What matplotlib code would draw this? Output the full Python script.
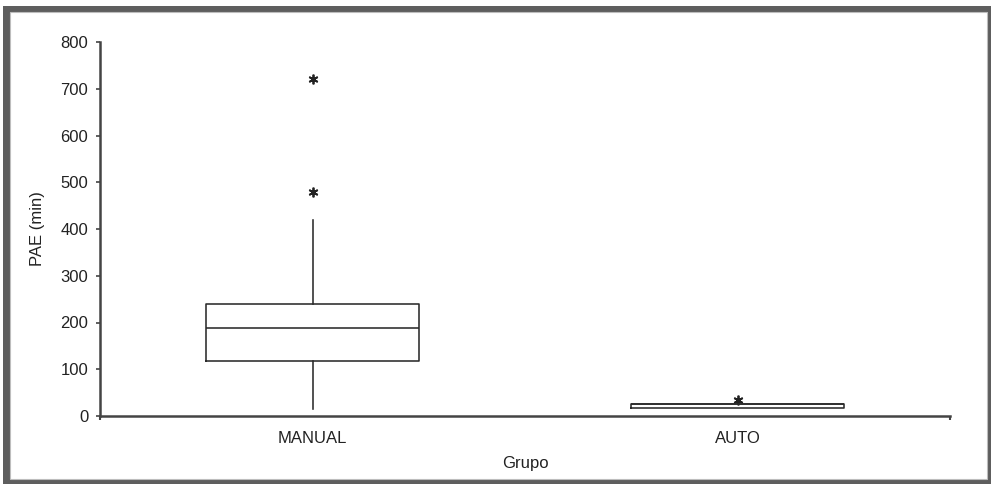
import matplotlib.pyplot as plt
from matplotlib.patches import Rectangle

plt.rcParams['font.family'] = ['Liberation Sans', 'DejaVu Sans']

groups = ["MANUAL", "AUTO"]
whisker_low = [15, 17]
q1 = [118, 18]
median = [188, 26]
q3 = [240, 26]
whisker_high = [419, 27]
outliers = [[480, 720], [34]]

stats = []
for i, g in enumerate(groups):
    stats.append({
        'label': g,
        'whislo': whisker_low[i],
        'q1': q1[i],
        'med': median[i],
        'q3': q3[i],
        'whishi': whisker_high[i],
        'fliers': outliers[i],
    })

fig = plt.figure(figsize=(9.91, 4.84), dpi=100)
W, H = 991, 484

# gray picture frame
fig.patches.append(Rectangle((3 / W, 0), 988 / W, 478 / H, transform=fig.transFigure,
                             facecolor='#5e5e5e', edgecolor='none', zorder=0))
fig.patches.append(Rectangle((10 / W, 5 / H), 977 / W, 467 / H, transform=fig.transFigure,
                             facecolor='white', edgecolor='#bdbdbd', linewidth=0.8, zorder=0.5))

ax = fig.add_axes([100 / W, 1 - 416 / H, 850 / W, 374 / H])
ax.set_zorder(2)
ax.patch.set_alpha(0)

line = dict(color='#2a2a2a', linewidth=1.15)
ax.bxp(stats, positions=[1, 2], widths=0.5, showcaps=False,
       boxprops=line, whiskerprops=line, medianprops=line,
       flierprops=dict(marker=(6, 2, 0), markersize=7, markeredgecolor='#222222',
                       markeredgewidth=1.3, linestyle='none'))

ax.set_xlim(0.5, 2.5)
ax.set_ylim(0, 800)
ax.set_yticks(range(0, 801, 100))
ax.set_xticks([0.5, 2.5], minor=True)
ax.tick_params(axis='x', which='major', length=0, pad=11, labelsize=12, colors='#222222')
ax.tick_params(axis='x', which='minor', length=3, width=1.5, direction='out', color='#444444')
ax.tick_params(axis='y', length=3, width=1.2, color='#444444', labelsize=12, pad=5.5, labelcolor='#222222')

for s in ['top', 'right']:
    ax.spines[s].set_visible(False)
for s in ['left', 'bottom']:
    ax.spines[s].set_linewidth(1.8)
    ax.spines[s].set_color('#444444')

ax.set_xlabel("Grupo", fontsize=12, color='#222222', labelpad=7)
ax.set_ylabel("PAE (min)", fontsize=12, color='#222222', labelpad=11)

fig.savefig("out.png", dpi=100)
